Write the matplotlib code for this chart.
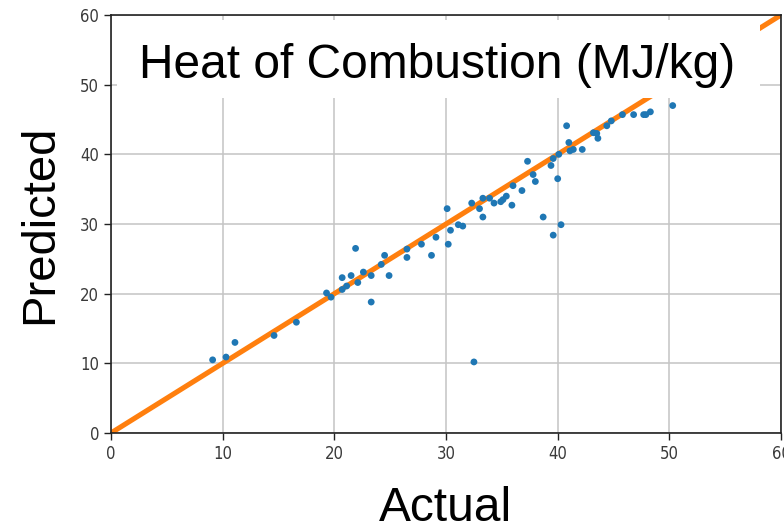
import matplotlib
matplotlib.use("Agg")
import matplotlib.pyplot as plt
from matplotlib import font_manager
from matplotlib.patches import Rectangle

# values
actual = [9.1, 10.3, 11.1, 14.6, 16.6, 19.3, 19.7, 20.7, 20.7, 21.1,
          21.5, 21.9, 22.1, 22.6, 23.3, 23.3, 24.2, 24.5, 24.9, 26.5,
          26.5, 27.8, 28.7, 29.1, 30.1, 30.2, 30.4, 31.1, 31.5, 32.3,
          32.5, 33.0, 33.3, 33.3, 33.9, 34.3, 34.9, 35.1, 35.4, 35.9,
          36.0, 36.8, 37.3, 37.8, 38.0, 38.7, 39.4, 39.6, 39.6, 40.0,
          40.1, 40.3, 40.8, 41.0, 41.1, 41.4, 42.2, 43.2, 43.5, 43.6,
          44.4, 44.8, 45.8, 46.8, 47.7, 47.9, 48.3, 50.3]
predicted = [10.5, 10.9, 13.0, 14.0, 15.9, 20.1, 19.5, 22.3, 20.6, 21.1,
             22.6, 26.5, 21.6, 23.1, 22.6, 18.8, 24.2, 25.5, 22.6, 26.4,
             25.2, 27.1, 25.5, 28.1, 32.2, 27.1, 29.1, 29.9, 29.7, 33.0,
             10.2, 32.2, 33.7, 31.0, 33.7, 33.0, 33.2, 33.5, 34.0, 32.7,
             35.5, 34.8, 39.0, 37.1, 36.1, 31.0, 38.4, 39.4, 28.4, 36.5,
             40.0, 29.9, 44.1, 41.7, 40.5, 40.7, 40.7, 43.1, 43.0, 42.3,
             44.1, 44.8, 45.7, 45.7, 45.7, 45.7, 46.1, 47.0]
ideal = [0, 60]
ticks = [0, 10, 20, 30, 40, 50, 60]
title = "Heat of Combustion (MJ/kg)"

# narrow font for the tick labels if one is around
names = set(f.name for f in font_manager.fontManager.ttflist)
if "Liberation Sans Narrow" in names:
    tick_font = dict(family="Liberation Sans Narrow")
else:
    tick_font = dict(family="DejaVu Sans", stretch="condensed")
big_font = ["Liberation Sans", "DejaVu Sans"]

fig = plt.figure(figsize=(7.84, 5.26), dpi=100)
ax = fig.add_axes([0.1416, 0.1768, 0.8546, 0.7947])

ax.plot(ideal, ideal, '-', color='#ff7f0e', lw=3.7, zorder=2,
        solid_capstyle='butt')
ax.scatter(actual, predicted, s=24, color='#1f77b4', edgecolors='none',
           zorder=3)

ax.set_xlim(0, 60)
ax.set_ylim(0, 60)
ax.set_xticks(ticks)
ax.set_yticks(ticks)
ax.grid(True, color='#c4c4c4', lw=1.1)
ax.set_axisbelow(True)
ax.tick_params(direction='out', length=5, width=1, colors='#222222',
               labelcolor='#3a3a3a', labelsize=12)
for lab in ax.get_xticklabels() + ax.get_yticklabels():
    lab.set_fontproperties(font_manager.FontProperties(size=12, **tick_font))
for sp in ax.spines.values():
    sp.set_color('#222222')
    sp.set_linewidth(1.2)

# white box behind the title, covers line and grid
ax.add_patch(Rectangle((0.009, 0.801), 0.96, 0.187, transform=ax.transAxes,
                       facecolor='white', edgecolor='none', zorder=4))
ax.text(0.486, 0.849, title, transform=ax.transAxes, ha='center',
        va='baseline', fontsize=34.5, family=big_font, zorder=5)

ax.set_xlabel("Actual", fontsize=34.5, family=big_font, labelpad=17)
ax.set_ylabel("Predicted", fontsize=34, family=big_font, labelpad=13)

fig.savefig("out.png", dpi=100)
